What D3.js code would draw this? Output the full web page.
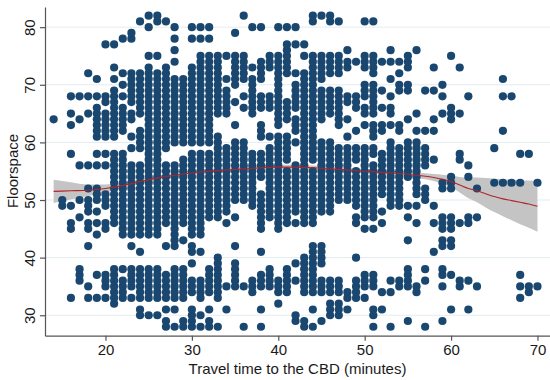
<!DOCTYPE html>
<html><head><meta charset="utf-8">
<script src="https://cdn.jsdelivr.net/npm/d3@7"></script>
<style>
body{margin:0;background:#fff}
svg{display:block}
text{font-family:Arial,"Liberation Sans",sans-serif;fill:#1a1a1a}
</style>
</head><body>
<svg id="chart" width="550" height="380"></svg>
<script>
// Travel time (minutes) columns and the floorspace values read at each one (runs "a-b" = every integer a..b seen as a stacked column)
const minutes = [14,15,16,17,18,19,20,21,22,23,24,25,26,27,28,29,30,31,32,33,34,35,36,37,38,39,40,41,42,43,44,45,46,47,48,49,50,51,52,53,54,55,56,57,58,59,60,61,62,63,65,66,67,68,69,70];
const floorspace = [
  "64",
  "49,50",
  "33,45,46,49,58,63,65,68",
  "36-38,47,50,56,64,68",
  "33,35,42,45,46,48-50,52,56,65,68,72",
  "33,37,44,46,48,50-52,56,58,61-66,68,71",
  "33,35-37,45,46,49-51,56,58,61-65,67,68,77",
  "32-38,46-58,61-69,71,73,77",
  "33-36,38,44-58,62-66,68,70,72,78",
  "33,35-38,42,44-56,59,61,64,65,67-72,78,79",
  "30,31,33-38,41,44-56,59-62,65-72,81",
  "30,33-38,44-73,75,80,82",
  "30,33-38,44-72,75,81,82",
  "28,29,31,33-37,42,46-56,59-73,81",
  "28,31,33-38,42-56,60-71,74,76,78,80",
  "28,29,33-38,43,46-57,60-71",
  "28-31,34-36,39,41,42,44-58,60-73,78,80",
  "28,30,33-36,41,44-58,60-75,78,80",
  "28,29,31,34-38,47-58,60-75,78,80",
  "28,33-40,47-61,65-75",
  "31,35,46,48-59,65-69,71,75",
  "35-39,42,47,50-60,63,67,70-75,79",
  "28,35,50-60,66,68,71-75,82",
  "34-36,49-58,65-71,73,80",
  "28,31,35-37,41,45-51,54-58,61-63,66-68,71-74,80",
  "35-38,47-59,61,66-68,73-75",
  "32,34-36,45-61,63-75,80",
  "34-38,46-55,57-61,64-67,72-77,80",
  "29,30,36,39,46,48-56,60,62-64,66-70,72,77,80",
  "28,29,34-40,46-72,75,77",
  "28,31,34-42,46-55,57-75,81,82",
  "29,34-36,39-42,48-60,64-69,71-75,82",
  "30-32,34-36,48-60,65-69,72-75,81,82",
  "30-32,34-36,50-59,63-69,72-75,81",
  "31,33,34,50-59,61,64,67,68,73,74,76",
  "33-36,40,46,47,49-55,57-59,62,66-68,74",
  "33,35-37,45,47-59,63,65,66,68-70,73-75,81",
  "28,30,31,35-37,45,47-56,58,59,61-63,65-70,72-75,81",
  "31,34,46,48,51-58,62,63,66,69,74",
  "28,34,36,49-60,63,65,66,68,71,74,76",
  "35,36,49-59,62,63,69,70,72,74",
  "29,35-38,43,47,49,54-60,64,69,70,73-75",
  "34,35,46,49,51-60,62,65,76",
  "28,36,38,50-52,56-59,62,69",
  "41,46,49,57,62,64,69,73",
  "29,35,37,38,42,43,45-47,52,53,65,68,70",
  "31,37,42,43,45-47,52-54,64-66,75",
  "35,36,46,57,58,65,73",
  "31,36,46,47,54,56,68",
  "35,47,52",
  "53,59",
  "53,62,68,71",
  "53,68",
  "33,35,37,53,58",
  "34,35,58",
  "35,53"
];

// Local polynomial fit with confidence band
const fitMinutes = [14,16,18,20,22,24,26,28,30,32,34,36,38,40,42,44,46,48,50,52,54,56,58,59,60,61,62,63,64,65,66,67,68,69,70];
const fitValue   = [51.5,51.6,51.7,52.0,52.5,53.2,53.8,54.3,54.7,55.0,55.2,55.4,55.6,55.7,55.7,55.6,55.4,55.2,55.0,54.8,54.6,54.3,53.9,53.6,53.2,52.6,52.0,51.6,51.1,50.6,50.2,49.9,49.6,49.3,48.9];
const ciLow      = [49.5,50.1,50.7,51.3,52.0,52.8,53.4,53.9,54.3,54.6,54.8,55.0,55.2,55.3,55.3,55.2,55.0,54.8,54.6,54.4,54.2,53.8,53.3,52.8,52.2,51.3,50.3,49.6,48.7,47.9,47.2,46.5,45.8,45.2,44.5];
const ciHigh     = [53.5,53.1,52.7,52.7,53.0,53.6,54.2,54.7,55.1,55.4,55.6,55.8,56.0,56.1,56.1,56.0,55.8,55.6,55.4,55.2,55.0,54.8,54.5,54.4,54.2,54.0,53.9,53.9,53.8,53.7,53.6,53.5,53.4,53.4,53.3];

const xTicks = [20,30,40,50,60,70];
const yTicks = [30,40,50,60,70,80];
const xTitle = "Travel time to the CBD (minutes)";
const yTitle = "Floorspace";

// expand the read runs into points
const points = [];
minutes.forEach((m, i) => {
  floorspace[i].split(",").forEach(tok => {
    if (tok.includes("-")) {
      const [a, b] = tok.split("-").map(Number);
      for (let v = a; v <= b; v++) points.push({m, v});
    } else points.push({m, v: +tok});
  });
});

const svg = d3.select("#chart");
const x = d3.scaleLinear().domain([13.0, 71.45]).range([45, 550]);
const y = d3.scaleLinear().domain([26.45, 83.5]).range([335.7, 7]);

// grid
svg.append("g").selectAll("line").data(yTicks).join("line")
  .attr("x1", 45).attr("x2", 550)
  .attr("y1", d => y(d)).attr("y2", d => y(d))
  .attr("stroke", "#e3ebf0").attr("stroke-width", 1);

// CI band
const fit = fitMinutes.map((m, i) => ({m, f: fitValue[i], lo: ciLow[i], hi: ciHigh[i]}));
svg.append("path").datum(fit)
  .attr("d", d3.area().x(d => x(d.m)).y0(d => y(d.lo)).y1(d => y(d.hi)).curve(d3.curveMonotoneX))
  .attr("fill", "#c4c4c4");

// scatter
svg.append("g").selectAll("circle").data(points).join("circle")
  .attr("cx", d => x(d.m)).attr("cy", d => y(d.v)).attr("r", 4.1)
  .attr("fill", "#1a476f");

// fit line
svg.append("path").datum(fit)
  .attr("d", d3.line().x(d => x(d.m)).y(d => y(d.f)).curve(d3.curveMonotoneX))
  .attr("fill", "none").attr("stroke", "#b0242c").attr("stroke-width", 1.1);

// axes
const xAxis = svg.append("g").attr("transform", "translate(0,335.7)")
  .call(d3.axisBottom(x).tickValues(xTicks).tickSize(5).tickSizeOuter(0).tickPadding(4));
const yAxis = svg.append("g").attr("transform", "translate(45,0)")
  .call(d3.axisLeft(y).tickValues(yTicks).tickSize(5).tickSizeOuter(0));
[xAxis, yAxis].forEach(g => {
  g.select(".domain").attr("stroke", "#555").attr("stroke-width", 1.2);
  g.selectAll(".tick line").attr("stroke", "#555").attr("stroke-width", 1.2);
  g.selectAll("text").attr("font-size", 15).attr("fill", "#1a1a1a")
    .style("font-family", "Arial, 'Liberation Sans', sans-serif");
});
yAxis.selectAll(".tick text")
  .attr("x", 0).attr("dy", 0).attr("text-anchor", "middle")
  .attr("transform", "translate(-10,0) rotate(-90)");

svg.append("text").attr("x", 297.5).attr("y", 374).attr("text-anchor", "middle")
  .attr("font-size", 15).text(xTitle);
svg.append("text").attr("transform", "translate(18,171) rotate(-90)").attr("text-anchor", "middle")
  .attr("font-size", 15).text(yTitle);
</script>
</body></html>
